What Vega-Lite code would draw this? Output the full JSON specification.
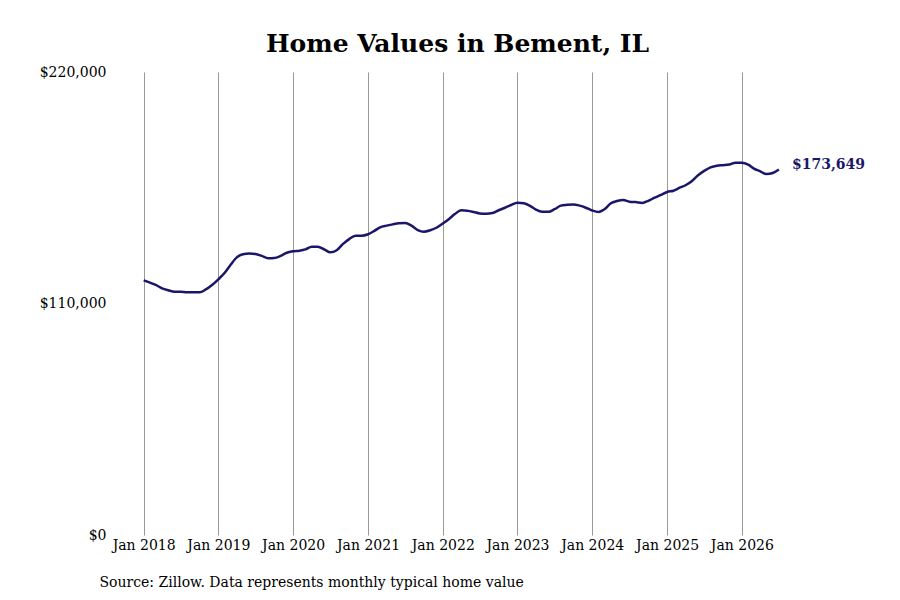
{
  "$schema": "https://vega.github.io/schema/vega-lite/v6.json",
  "autosize": {"type": "none"},
  "padding": {"left": 115, "top": 72, "right": 100, "bottom": 65},
  "width": 685,
  "height": 463,
  "background": "white",
  "title": {
    "text": "Home Values in Bement, IL",
    "font": "DejaVu Serif",
    "fontSize": 25,
    "fontWeight": "bold",
    "color": "black",
    "anchor": "middle",
    "offset": 8
  },
  "config": {
    "view": {"stroke": null},
    "axis": {"labelFont": "DejaVu Serif", "labelFontSize": 14, "labelColor": "black"}
  },
  "data": {
    "values": [
      {"date": "2018-01-01T00:00", "value": 121000},
      {"date": "2018-02-01T00:00", "value": 119900},
      {"date": "2018-03-01T00:00", "value": 118800},
      {"date": "2018-04-01T00:00", "value": 117200},
      {"date": "2018-05-01T00:00", "value": 116300},
      {"date": "2018-06-01T00:00", "value": 115600},
      {"date": "2018-07-01T00:00", "value": 115600},
      {"date": "2018-08-01T00:00", "value": 115300},
      {"date": "2018-09-01T00:00", "value": 115300},
      {"date": "2018-10-01T00:00", "value": 115300},
      {"date": "2018-11-01T00:00", "value": 116700},
      {"date": "2018-12-01T00:00", "value": 118800},
      {"date": "2019-01-01T00:00", "value": 121500},
      {"date": "2019-02-01T00:00", "value": 124600},
      {"date": "2019-03-01T00:00", "value": 128300},
      {"date": "2019-04-01T00:00", "value": 131900},
      {"date": "2019-05-01T00:00", "value": 133400},
      {"date": "2019-06-01T00:00", "value": 133700},
      {"date": "2019-07-01T00:00", "value": 133500},
      {"date": "2019-08-01T00:00", "value": 132600},
      {"date": "2019-09-01T00:00", "value": 131500},
      {"date": "2019-10-01T00:00", "value": 131600},
      {"date": "2019-11-01T00:00", "value": 132600},
      {"date": "2019-12-01T00:00", "value": 134100},
      {"date": "2020-01-01T00:00", "value": 134800},
      {"date": "2020-02-01T00:00", "value": 135100},
      {"date": "2020-03-01T00:00", "value": 135700},
      {"date": "2020-04-01T00:00", "value": 137000},
      {"date": "2020-05-01T00:00", "value": 137000},
      {"date": "2020-06-01T00:00", "value": 135700},
      {"date": "2020-07-01T00:00", "value": 134300},
      {"date": "2020-08-01T00:00", "value": 135300},
      {"date": "2020-09-01T00:00", "value": 138300},
      {"date": "2020-10-01T00:00", "value": 140600},
      {"date": "2020-11-01T00:00", "value": 142200},
      {"date": "2020-12-01T00:00", "value": 142200},
      {"date": "2021-01-01T00:00", "value": 142900},
      {"date": "2021-02-01T00:00", "value": 144500},
      {"date": "2021-03-01T00:00", "value": 146200},
      {"date": "2021-04-01T00:00", "value": 147000},
      {"date": "2021-05-01T00:00", "value": 147600},
      {"date": "2021-06-01T00:00", "value": 148100},
      {"date": "2021-07-01T00:00", "value": 148200},
      {"date": "2021-08-01T00:00", "value": 147000},
      {"date": "2021-09-01T00:00", "value": 144900},
      {"date": "2021-10-01T00:00", "value": 144100},
      {"date": "2021-11-01T00:00", "value": 144800},
      {"date": "2021-12-01T00:00", "value": 146000},
      {"date": "2022-01-01T00:00", "value": 148000},
      {"date": "2022-02-01T00:00", "value": 150200},
      {"date": "2022-03-01T00:00", "value": 152500},
      {"date": "2022-04-01T00:00", "value": 154300},
      {"date": "2022-05-01T00:00", "value": 154100},
      {"date": "2022-06-01T00:00", "value": 153500},
      {"date": "2022-07-01T00:00", "value": 152800},
      {"date": "2022-08-01T00:00", "value": 152700},
      {"date": "2022-09-01T00:00", "value": 153000},
      {"date": "2022-10-01T00:00", "value": 154300},
      {"date": "2022-11-01T00:00", "value": 155500},
      {"date": "2022-12-01T00:00", "value": 156800},
      {"date": "2023-01-01T00:00", "value": 157900},
      {"date": "2023-02-01T00:00", "value": 157600},
      {"date": "2023-03-01T00:00", "value": 156500},
      {"date": "2023-04-01T00:00", "value": 154600},
      {"date": "2023-05-01T00:00", "value": 153600},
      {"date": "2023-06-01T00:00", "value": 153600},
      {"date": "2023-07-01T00:00", "value": 154800},
      {"date": "2023-08-01T00:00", "value": 156500},
      {"date": "2023-09-01T00:00", "value": 156900},
      {"date": "2023-10-01T00:00", "value": 157100},
      {"date": "2023-11-01T00:00", "value": 156500},
      {"date": "2023-12-01T00:00", "value": 155500},
      {"date": "2024-01-01T00:00", "value": 154200},
      {"date": "2024-02-01T00:00", "value": 153500},
      {"date": "2024-03-01T00:00", "value": 154800},
      {"date": "2024-04-01T00:00", "value": 157600},
      {"date": "2024-05-01T00:00", "value": 158700},
      {"date": "2024-06-01T00:00", "value": 159200},
      {"date": "2024-07-01T00:00", "value": 158400},
      {"date": "2024-08-01T00:00", "value": 158200},
      {"date": "2024-09-01T00:00", "value": 157800},
      {"date": "2024-10-01T00:00", "value": 158800},
      {"date": "2024-11-01T00:00", "value": 160300},
      {"date": "2024-12-01T00:00", "value": 161600},
      {"date": "2025-01-01T00:00", "value": 163000},
      {"date": "2025-02-01T00:00", "value": 163600},
      {"date": "2025-03-01T00:00", "value": 164900},
      {"date": "2025-04-01T00:00", "value": 166200},
      {"date": "2025-05-01T00:00", "value": 168100},
      {"date": "2025-06-01T00:00", "value": 170900},
      {"date": "2025-07-01T00:00", "value": 173000},
      {"date": "2025-08-01T00:00", "value": 174700},
      {"date": "2025-09-01T00:00", "value": 175500},
      {"date": "2025-10-01T00:00", "value": 175700},
      {"date": "2025-11-01T00:00", "value": 176000},
      {"date": "2025-12-01T00:00", "value": 176900},
      {"date": "2026-01-01T00:00", "value": 176900},
      {"date": "2026-02-01T00:00", "value": 176000},
      {"date": "2026-03-01T00:00", "value": 174100},
      {"date": "2026-04-01T00:00", "value": 172800},
      {"date": "2026-05-01T00:00", "value": 171500},
      {"date": "2026-06-01T00:00", "value": 172000},
      {"date": "2026-07-01T00:00", "value": 173649}
    ]
  },
  "encoding": {
    "x": {
      "field": "date",
      "type": "temporal",
      "scale": {"domain": ["2017-08-14T00:00", "2026-10-12T00:00"]},
      "axis": {
        "values": [
          {"year": 2018, "month": 1, "date": 1}, {"year": 2019, "month": 1, "date": 1},
          {"year": 2020, "month": 1, "date": 1}, {"year": 2021, "month": 1, "date": 1},
          {"year": 2022, "month": 1, "date": 1}, {"year": 2023, "month": 1, "date": 1},
          {"year": 2024, "month": 1, "date": 1}, {"year": 2025, "month": 1, "date": 1},
          {"year": 2026, "month": 1, "date": 1}
        ],
        "format": "%b %Y",
        "grid": true,
        "gridColor": "#999999",
        "gridOpacity": 1,
        "domain": false,
        "ticks": false,
        "labelPadding": 3,
        "title": "Source: Zillow. Data represents monthly typical home value",
        "titleFont": "DejaVu Serif",
        "titleFontSize": 14,
        "titleFontWeight": "normal",
        "titleColor": "black",
        "titleAlign": "left",
        "titleAnchor": "start",
        "titleBaseline": "alphabetic",
        "titleX": -16,
        "titleY": 51
      }
    },
    "y": {
      "field": "value",
      "type": "quantitative",
      "scale": {"domain": [0, 220000]},
      "axis": {
        "values": [0, 110000, 220000],
        "format": "$,.0f",
        "grid": false,
        "domain": false,
        "ticks": false,
        "labelPadding": 9,
        "title": null
      }
    }
  },
  "layer": [
    {
      "mark": {"type": "line", "color": "#1a176b", "strokeWidth": 2.5, "interpolate": "monotone"}
    },
    {
      "transform": [{"filter": "datum.value == 173649"}],
      "mark": {
        "type": "text",
        "align": "left",
        "dx": 13,
        "dy": -5,
        "font": "DejaVu Serif",
        "fontSize": 14,
        "fontWeight": "bold",
        "color": "#1a176b"
      },
      "encoding": {
        "text": {"field": "value", "type": "quantitative", "format": "$,.0f"}
      }
    }
  ]
}
